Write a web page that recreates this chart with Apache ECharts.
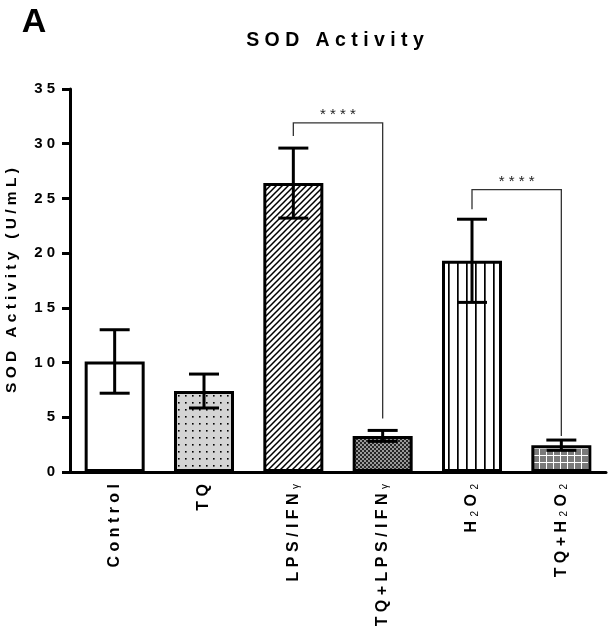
<!DOCTYPE html>
<html><head><meta charset="utf-8">
<script src="https://cdn.jsdelivr.net/npm/echarts@6/dist/echarts.min.js"></script>
<style>html,body{margin:0;padding:0;background:#fff}#c{width:613px;height:630px}</style>
</head><body><div id="c"></div>
<script>
// ---- data ----
const categories = ['Control', 'TQ', 'LPS/IFN_γ', 'TQ+LPS/IFN_γ', 'H_2O_2', 'TQ+H_2O_2'];
const means = [10.1, 7.4, 26.4, 3.3, 19.3, 2.45];
const errors = [2.9, 1.55, 3.2, 0.5, 3.8, 0.47];
const yTicks = [0, 5, 10, 15, 20, 25, 30, 35];
const bracketFrom = [2, 4];
const bracketTo = [3, 5];
const bracketTop = [31.9, 25.8];
const bracketLeftEnd = [30.7, 24.0];
const bracketRightEnd = [4.9, 3.3];
const bracketText = ['****', '****'];
const chartTitle = 'SOD Activity';
const yName = 'SOD Activity (U/mL)';
const panelLetter = 'A';

// ---- helpers ----
const FONT = "'Liberation Sans', Arial, sans-serif";
function spaced(s) { return [...s].join(' '); }
function richLabel(s) {
  const toks = []; const ch = [...s];
  for (let k = 0; k < ch.length; k++) {
    if (ch[k] === '_') { toks.push({ t: ch[k + 1], sub: true }); k++; }
    else toks.push({ t: ch[k], sub: false });
  }
  return toks.map((tk, k) => (tk.sub ? '{s|' + tk.t + '}' : '{b|' + tk.t + '}') + (k < toks.length - 1 ? '{b| }' : '')).join('');
}
function makePattern(w, h, draw) {
  const c = document.createElement('canvas'); c.width = w; c.height = h;
  const x = c.getContext('2d'); draw(x, w, h);
  return { image: c, repeat: 'repeat' };
}
const patterns = [
  '#ffffff',
  makePattern(7, 7, (x, w, h) => { x.fillStyle = '#d4d4d4'; x.fillRect(0, 0, w, h); x.fillStyle = '#000'; x.fillRect(3, 3, 1.6, 1.6); }),
  makePattern(6, 6, (x, w, h) => {
    x.fillStyle = '#fff'; x.fillRect(0, 0, w, h);
    x.strokeStyle = '#000'; x.lineWidth = 1.5;
    x.beginPath(); x.moveTo(-1, 7); x.lineTo(7, -1); x.moveTo(-4, 4); x.lineTo(4, -4); x.moveTo(2, 10); x.lineTo(10, 2); x.stroke();
  }),
  makePattern(4, 4, (x, w, h) => { x.fillStyle = '#262626'; x.fillRect(0, 0, w, h); x.fillStyle = '#9a9a9a'; x.fillRect(0, 0, 2, 2); x.fillRect(2, 2, 2, 2); }),
  makePattern(9, 9, (x, w, h) => { x.fillStyle = '#fff'; x.fillRect(0, 0, w, h); x.fillStyle = '#000'; x.fillRect(7, 0, 1.7, h); }),
  makePattern(7, 7, (x, w, h) => { x.fillStyle = '#7a7a7a'; x.fillRect(0, 0, w, h); x.fillStyle = '#fff'; x.fillRect(0, 0, w, 1); x.fillRect(0, 0, 1, h); })
];

const chart = echarts.init(document.getElementById('c'), null, { renderer: 'canvas' });
chart.setOption({
  animation: false,
  backgroundColor: '#fff',
  textStyle: { fontFamily: FONT },
  grid: { left: 70, right: 7, top: 89, bottom: 158, containLabel: false, outerBoundsMode: 'none' },
  graphic: [
    { type: 'text', x: 34, y: 23, style: { text: panelLetter, fontSize: 34, fontWeight: 'bold', fontFamily: FONT, fill: '#000', align: 'center', verticalAlign: 'middle' } },
    { type: 'text', x: 335, y: 41, style: { text: spaced(chartTitle), fontSize: 19.5, fontWeight: 'bold', fontFamily: FONT, fill: '#000', align: 'center', verticalAlign: 'middle' } }
  ],
  xAxis: {
    type: 'category',
    data: categories,
    axisLine: { lineStyle: { color: '#000', width: 3 } },
    axisTick: { alignWithLabel: true, length: 8, lineStyle: { color: '#000', width: 3 } },
    axisLabel: {
      rotate: 90, margin: 12, interval: 0,
      formatter: v => richLabel(v),
      rich: {
        b: { fontSize: 16, fontWeight: 'bold', color: '#000', fontFamily: FONT },
        s: { fontSize: 10, color: '#000', fontFamily: FONT, verticalAlign: 'bottom' }
      }
    },
    splitLine: { show: false }
  },
  yAxis: {
    type: 'value', min: 0, max: 35, interval: 5,
    name: spaced(yName), nameLocation: 'middle', nameGap: 50,
    nameTextStyle: { fontSize: 15.5, fontWeight: 'bold', color: '#000', fontFamily: FONT },
    axisLine: { show: true, lineStyle: { color: '#000', width: 3 } },
    axisTick: { show: true, length: 8, lineStyle: { color: '#000', width: 3 } },
    axisLabel: { fontSize: 15, fontWeight: 'bold', color: '#000', margin: 15, formatter: v => yTicks.includes(v) ? spaced(String(v)) : '' },
    splitLine: { show: false }
  },
  series: [
    {
      type: 'bar', barWidth: 60,
      data: means.map((m, i) => ({ value: m, itemStyle: { color: patterns[i] } })),
      itemStyle: { borderColor: '#000', borderWidth: 3 },
      z: 2
    },
    {
      type: 'custom', z: 5,
      encode: { x: 0, y: 1 },
      data: means.map((m, i) => [i, m, errors[i]]),
      renderItem: (params, api) => {
        const i = api.value(0), m = api.value(1), e = api.value(2);
        const top = api.coord([i, m + e]), bot = api.coord([i, m - e]);
        const hw = 15, st = { stroke: '#000', lineWidth: 3 };
        return { type: 'group', children: [
          { type: 'line', shape: { x1: top[0], y1: top[1], x2: bot[0], y2: bot[1] }, style: st },
          { type: 'line', shape: { x1: top[0] - hw, y1: top[1], x2: top[0] + hw, y2: top[1] }, style: st },
          { type: 'line', shape: { x1: bot[0] - hw, y1: bot[1], x2: bot[0] + hw, y2: bot[1] }, style: st }
        ] };
      }
    },
    {
      type: 'custom', z: 6,
      encode: { x: 0, y: 2 },
      data: bracketFrom.map((f, k) => [f, bracketTo[k], bracketTop[k], bracketLeftEnd[k], bracketRightEnd[k], k]),
      renderItem: (params, api) => {
        const f = api.value(0), t = api.value(1), top = api.value(2), le = api.value(3), re = api.value(4), k = api.value(5);
        const a = api.coord([f, le]), b = api.coord([f, top]), c = api.coord([t, top]), d = api.coord([t, re]);
        return { type: 'group', children: [
          { type: 'polyline', shape: { points: [a, b, c, d] }, style: { stroke: '#333', lineWidth: 1.3, fill: null } },
          { type: 'text', x: (b[0] + c[0]) / 2, y: b[1] - 8, style: { text: spaced(bracketText[k]), fontSize: 15, fontFamily: FONT, fill: '#222', align: 'center', verticalAlign: 'middle' } }
        ] };
      }
    }
  ]
});
</script>
</body></html>
